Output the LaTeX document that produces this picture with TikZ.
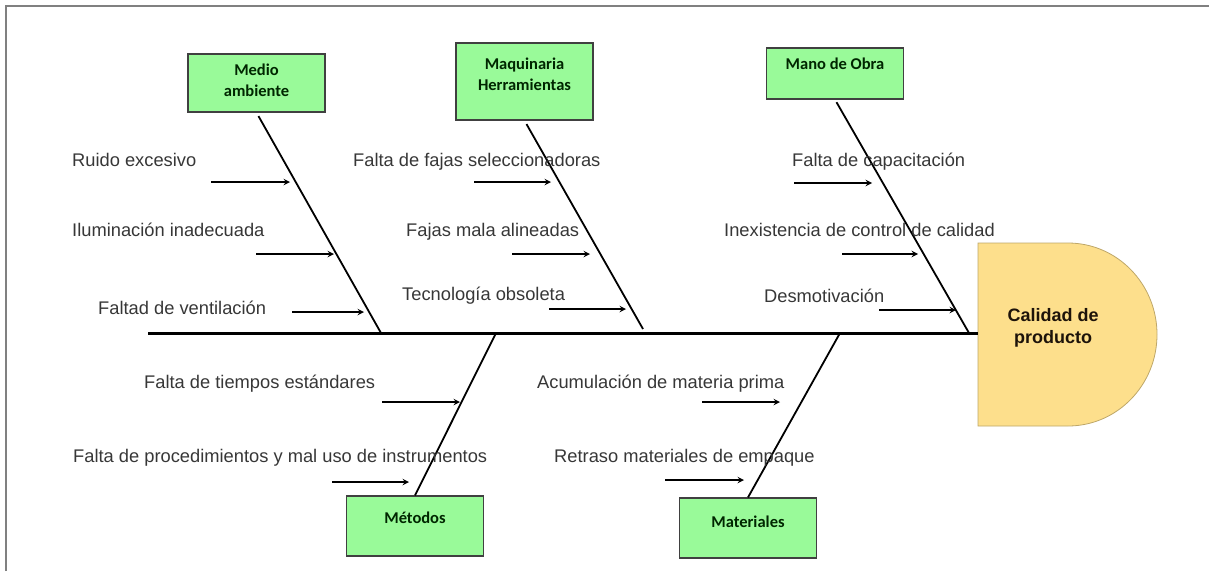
\documentclass[tikz,border=0pt]{standalone}
\usepackage{fontspec}
\setmainfont{Liberation Sans}
\newfontfamily\boxfont{Carlito}
\usetikzlibrary{shapes.geometric, arrows}
\definecolor{boxgreen}{RGB}{153,250,153}
\definecolor{headyellow}{RGB}{253,223,140}
\definecolor{causegray}{RGB}{55,55,55}
\tikzstyle{arrow} = [line width=1.8pt,->,>=stealth]
\tikzstyle{bone} = [line width=1.8pt]
\tikzstyle{category} = [draw=black!75, line width=1.2pt, fill=boxgreen, minimum width=137pt, inner sep=0pt, align=center, text=green!15!black, font=\boxfont\bfseries\fontsize{16.5}{21}\selectfont]
\tikzstyle{causetext} = [anchor=west, inner sep=0pt, text height=13pt, text depth=4pt, text=causegray, font=\fontsize{18.3}{22}\selectfont]

\begin{document}
\begin{tikzpicture}[x=1pt,y=-1pt]
\useasboundingbox (0,0) rectangle (1209,571);
\draw[gray, line width=1.5pt] (6,571) -- (6,6) -- (1209,6);

\draw[draw=headyellow!75!black, fill=headyellow, line width=0.8pt]
  (978,243) -- (1068,243) arc[start angle=-90, end angle=90, x radius=89, y radius=91.5] -- (978,426) -- cycle;
\node[align=center, inner sep=0pt, text=black!85!brown, font=\bfseries\fontsize{18}{22}\selectfont] (calidad) at (1053,328) {Calidad de\\producto};

\coordinate (tail) at (148,333);
\coordinate (headw) at (978,333);
\draw[line width=3pt] (tail) -- (headw);

\node[category, minimum height=58pt, text depth=5pt] (medio) at (256.5,83) {Medio\\ambiente};
\node[category, minimum height=77pt, text depth=14pt] (maquinaria) at (524.5,81.5) {Maquinaria\\Herramientas};
\node[category, minimum height=51pt, text depth=19pt] (mano) at (835,73.5) {Mano de Obra};
\node[category, minimum height=60pt, text depth=17pt] (metodos) at (415,526) {Métodos};
\node[category, minimum height=60pt, text depth=13pt] (materiales) at (748,528) {Materiales};

\coordinate (medioEnd) at (381,333);
\coordinate (maqEnd) at (643,329);
\coordinate (manoEnd) at (969,333);
\coordinate (metodosEnd) at (496,333);
\coordinate (materialesEnd) at (840,333);

\draw[bone, shorten <=4pt] (medio.south) -- (medioEnd);
\draw[bone, shorten <=4pt] (maquinaria.south) -- (maqEnd);
\draw[bone, shorten <=3pt] (mano.south) -- (manoEnd);
\draw[bone] (metodosEnd) -- (metodos.north);
\draw[bone] (materialesEnd) -- (materiales.north);

\node[causetext] (ruido) at (72,162) {Ruido excesivo};
\node[causetext] (iluminacion) at (72,232) {Iluminación inadecuada};
\node[causetext] (ventilacion) at (98,310) {Faltad de ventilación};
\node[causetext] (fajas) at (353,162) {Falta de fajas seleccionadoras};
\node[causetext] (alineadas) at (406,232) {Fajas mala alineadas};
\node[causetext] (tecnologia) at (402,296) {Tecnología obsoleta};
\node[causetext] (capacitacion) at (792,162) {Falta de capacitación};
\node[causetext] (control) at (724,232) {Inexistencia de control de calidad};
\node[causetext] (desmotivacion) at (764,298) {Desmotivación};
\node[causetext] (tiempos) at (144,384) {Falta de tiempos estándares};
\node[causetext] (procedimientos) at (73,458) {Falta de procedimientos y mal uso de instrumentos};
\node[causetext] (acumulacion) at (537,384) {Acumulación de materia prima};
\node[causetext] (retraso) at (554,458) {Retraso materiales de empaque};

\foreach \name/\xa/\xb/\y in {ruido/211/290/182, iluminacion/256/334/254, ventilacion/292/364/312,
    fajas/474/551/182, alineadas/512/590/254, tecnologia/549/626/309,
    capacitacion/794/872/183, control/842/918/254, desmotivacion/879/956/310,
    tiempos/382/460/402, procedimientos/332/409/482,
    acumulacion/702/780/402, retraso/665/744/480}{
  \coordinate (\name From) at (\xa,\y);
  \coordinate (\name To) at (\xb,\y);
  \draw[arrow] (\name From) -- (\name To);
}
\end{tikzpicture}
\end{document}
